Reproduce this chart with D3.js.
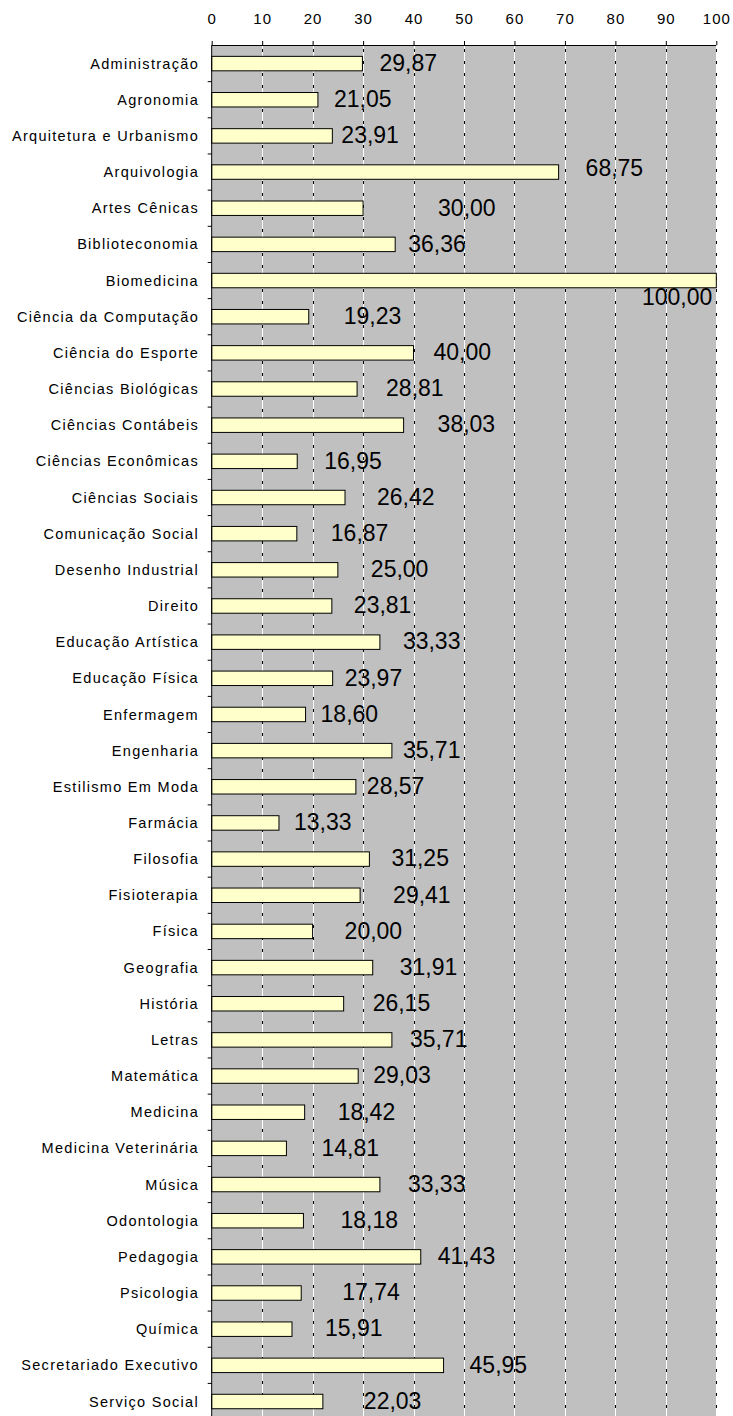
<!DOCTYPE html>
<html>
<head>
<meta charset="utf-8" />
<title>Percentual por curso</title>
<script src="https://d3js.org/d3.v7.min.js"></script>
<style>
  body { margin: 0; background: #ffffff; }
  .cat { font-family: "Liberation Sans", Arial, sans-serif; font-size: 14.5px; letter-spacing: 1.3px; fill: #000; }
  .tick-lbl { font-family: "Liberation Sans", Arial, sans-serif; font-size: 15px; letter-spacing: 1px; fill: #000; }
  .val { font-family: "Liberation Sans", Arial, sans-serif; font-size: 23px; fill: #000; }
</style>
</head>
<body>
<svg id="viz"></svg>
<script>

// data
var cursos = ["Administração", "Agronomia", "Arquitetura e Urbanismo", "Arquivologia",
  "Artes Cênicas", "Biblioteconomia", "Biomedicina", "Ciência da Computação",
  "Ciência do Esporte", "Ciências Biológicas", "Ciências Contábeis", "Ciências Econômicas",
  "Ciências Sociais", "Comunicação Social", "Desenho Industrial", "Direito",
  "Educação Artística", "Educação Física", "Enfermagem", "Engenharia",
  "Estilismo Em Moda", "Farmácia", "Filosofia", "Fisioterapia", "Física", "Geografia",
  "História", "Letras", "Matemática", "Medicina", "Medicina Veterinária", "Música",
  "Odontologia", "Pedagogia", "Psicologia", "Química", "Secretariado Executivo",
  "Serviço Social"];

var valores = [29.87, 21.05, 23.91, 68.75, 30.00, 36.36, 100.00, 19.23,
  40.00, 28.81, 38.03, 16.95, 26.42, 16.87, 25.00, 23.81,
  33.33, 23.97, 18.60, 35.71, 28.57, 13.33, 31.25, 29.41, 20.00, 31.91,
  26.15, 35.71, 29.03, 18.42, 14.81, 33.33, 18.18, 41.43, 17.74, 15.91, 45.95, 22.03];

var xTicks = [0, 10, 20, 30, 40, 50, 60, 70, 80, 90, 100];

// where excel dropped the value labels (px right of bar end)
var labelDx = [17, 16, 9, 27, 75, 13, 0, 35, 20, 29, 34, 27, 32, 34, 33, 22,
  23, 12, 15, 11, 11, 15, 22, 33, 32, 27, 29, 18, 15, 33, 35, 28, 37, 17, 41, 33, 26, 41];

var W = 733, H = 1416;
var plotL = 211.7, plotR = 716.3, plotT = 45;

var svg = d3.select("#viz")
  .attr("width", W)
  .attr("height", H);

var x = d3.scaleLinear().domain([0, 100]).range([plotL, plotR]);

var y = d3.scaleBand()
  .domain(cursos)
  .range([plotT + 0.5, plotT + 0.5 + 36.16 * cursos.length])
  .paddingInner(0.6)
  .paddingOuter(0.3);

var step = y.step();
var y0 = y(cursos[0]) - step * y.paddingOuter();

// plot background
svg.append("rect")
  .attr("x", plotL).attr("y", plotT)
  .attr("width", plotR - plotL).attr("height", H - plotT)
  .style("fill", "#c0c0c0");

// gridlines: white line with little black dashes
var grid = svg.append("g");
grid.selectAll("line.gw")
  .data(xTicks.slice(1))
  .enter().append("line")
  .attr("class", "gw")
  .attr("x1", function(d) { return Math.round(x(d)) + 0.5; })
  .attr("x2", function(d) { return Math.round(x(d)) + 0.5; })
  .attr("y1", plotT).attr("y2", H)
  .style("stroke", "#ffffff").style("stroke-width", 1);
grid.selectAll("line.gb")
  .data(xTicks.slice(1))
  .enter().append("line")
  .attr("class", "gb")
  .attr("x1", function(d) { return Math.round(x(d)) + 0.5; })
  .attr("x2", function(d) { return Math.round(x(d)) + 0.5; })
  .attr("y1", plotT + 4).attr("y2", H)
  .style("stroke", "#000000").style("stroke-width", 1)
  .style("stroke-dasharray", "3,9");

// bars
svg.selectAll("rect.bar")
  .data(valores)
  .enter().append("rect")
  .attr("class", "bar")
  .attr("x", x(0))
  .attr("y", function(d, i) { return y(cursos[i]); })
  .attr("width", function(d) { return x(d) - x(0); })
  .attr("height", y.bandwidth())
  .style("fill", "#ffffcc")
  .style("stroke", "#000000")
  .style("stroke-width", 1);

// top axis
var xAxis = d3.axisTop(x)
  .tickValues(xTicks)
  .tickSize(4)
  .tickPadding(17)
  .tickFormat(d3.format("d"));

var gx = svg.append("g")
  .attr("transform", "translate(0," + plotT + ")")
  .call(xAxis);
gx.attr("font-family", null).attr("font-size", null);
gx.select(".domain").attr("d", "M" + plotL + ",0.5H" + plotR).style("stroke", "#000");
gx.selectAll(".tick line").style("stroke", "#000");
gx.selectAll(".tick text").attr("class", "tick-lbl");

// left axis
var gy = svg.append("g").attr("transform", "translate(" + plotL + ",0)");
gy.append("line")
  .attr("x1", 0).attr("x2", 0)
  .attr("y1", plotT).attr("y2", H)
  .style("stroke", "#000");
gy.selectAll("line.yt")
  .data(d3.range(1, cursos.length))
  .enter().append("line")
  .attr("class", "yt")
  .attr("x1", -4).attr("x2", 0)
  .attr("y1", function(i) { return y0 + i * step; })
  .attr("y2", function(i) { return y0 + i * step; })
  .style("stroke", "#000");

svg.selectAll("text.cat")
  .data(cursos)
  .enter().append("text")
  .attr("class", "cat")
  .attr("x", 199)
  .attr("y", function(d) { return y(d) + y.bandwidth() / 2; })
  .attr("dy", "0.35em")
  .attr("text-anchor", "end")
  .text(function(d) { return d; });

// value labels
var fmt = function(v) { return d3.format(".2f")(v).replace(".", ","); };

svg.selectAll("text.val")
  .data(valores)
  .enter().append("text")
  .attr("class", "val")
  .attr("x", function(d, i) { return d >= 100 ? x(d) - 4 : x(d) + labelDx[i]; })
  .attr("y", function(d, i) {
    var cy = y(cursos[i]) + y.bandwidth() / 2;
    if (d >= 100) return cy + 16;
    if (i === 3) return cy - 4;
    return cy - 1;
  })
  .attr("dy", "0.36em")
  .attr("text-anchor", function(d) { return d >= 100 ? "end" : "start"; })
  .text(fmt);

</script>
</body>
</html>
